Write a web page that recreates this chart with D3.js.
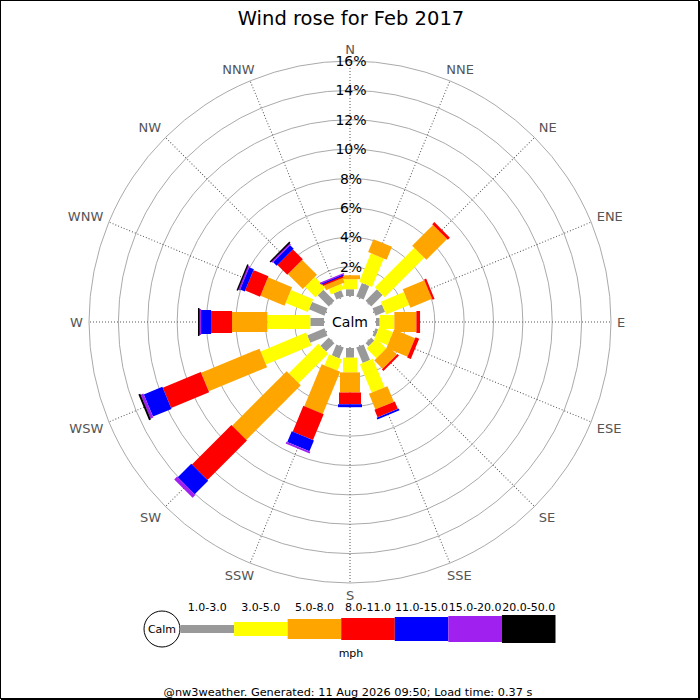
<!DOCTYPE html>
<html>
<head>
<meta charset="utf-8">
<script src="https://cdn.jsdelivr.net/npm/d3@7"></script>
<style>
  body { margin: 0; background: #fff; }
  text { font-family: "DejaVu Sans", sans-serif; }
</style>
</head>
<body>
<div id="my_dataviz"></div>
<script>
// directions, clockwise from north
var directions = ["N", "NNE", "NE", "ENE", "E", "ESE", "SE", "SSE",
                  "S", "SSW", "SW", "WSW", "W", "WNW", "NW", "NNW"];

// speed bands (mph) and their colours
var bands = ["1.0-3.0", "3.0-5.0", "5.0-8.0", "8.0-11.0", "11.0-15.0", "15.0-20.0", "20.0-50.0"];
var bandColors = ["#999999", "#ffff00", "#ffa500", "#ff0000", "#0000ff", "#a020f0", "#000000"];

// percentage of time per direction, one array per speed band
var pct1to3   = [0.46, 1.00, 1.10, 0.70, 0.25, 0.20, 0.30, 1.14, 0.66, 0.80, 0.80, 1.27, 0.93, 1.14, 1.07, 0.46];
var pct3to5   = [0.68, 2.10, 3.80, 1.70, 1.00, 1.00, 0.95, 2.10, 1.00, 0.82, 2.85, 3.35, 2.93, 1.64, 1.02, 0.40];
var pct5to8   = [0.27, 0.95, 2.00, 1.60, 1.50, 1.55, 0.80, 1.15, 1.37, 3.10, 5.25, 4.30, 2.40, 1.77, 1.43, 0.34];
var pct8to11  = [0, 0, 0.20, 0.15, 0.25, 0.27, 0.15, 0.55, 0.80, 1.90, 3.80, 2.80, 1.43, 1.10, 0.95, 0.14];
var pct11to15 = [0, 0, 0, 0, 0, 0, 0, 0.13, 0.20, 0.80, 1.30, 1.37, 0.68, 0.34, 0.34, 0.07];
var pct15to20 = [0, 0, 0, 0, 0, 0, 0, 0, 0, 0.13, 0.27, 0.20, 0.14, 0.14, 0.14, 0.07];
var pct20to50 = [0, 0, 0, 0, 0, 0, 0, 0, 0, 0, 0, 0.14, 0.07, 0.07, 0.07, 0];

// radial axis ticks
var ringTicks = [2, 4, 6, 8, 10, 12, 14, 16];

var series = [pct1to3, pct3to5, pct5to8, pct8to11, pct11to15, pct15to20, pct20to50];
var bandWidths = [8, 14, 20, 22, 24, 26, 28];

var width = 700, height = 700;
var cx = 350, cy = 322;
var calmR = 25;

var svg = d3.select("#my_dataviz")
  .append("svg")
    .attr("width", width)
    .attr("height", height);

// frame
svg.append("rect")
    .attr("x", 0.5).attr("y", 0.5)
    .attr("width", width - 2).attr("height", height - 2)
    .attr("fill", "#fff").attr("stroke", "#000");
svg.append("line").attr("x1", 1).attr("x2", 700).attr("y1", 699.5).attr("y2", 699.5).attr("stroke", "#000");
svg.append("line").attr("x1", 699.5).attr("x2", 699.5).attr("y1", 1).attr("y2", 700).attr("stroke", "#000");

// title
svg.append("text")
    .attr("x", 351).attr("y", 25)
    .attr("text-anchor", "middle")
    .style("font-size", "19.5px")
    .text("Wind rose for Feb 2017");

var r = d3.scaleLinear()
    .domain([0, 16])
    .range([26, 261]);

var angle = d3.scaleBand()
    .domain(directions)
    .range([0, 360]);

var g = svg.append("g")
    .attr("transform", "translate(" + cx + "," + cy + ")");

// rings
g.selectAll(".ring")
  .data(ringTicks)
  .enter()
  .append("circle")
    .attr("r", function(d) { return r(d); })
    .attr("fill", "none")
    .attr("stroke", "#aaa")
    .attr("stroke-width", 1);

// spokes
g.selectAll(".spoke")
  .data(directions)
  .enter()
  .append("line")
    .attr("transform", function(d) { return "rotate(" + angle(d) + ")"; })
    .attr("x1", 0).attr("x2", 0)
    .attr("y1", -calmR).attr("y2", -r(16))
    .attr("stroke", "#555")
    .attr("stroke-width", 1)
    .attr("stroke-dasharray", "1,2");

// stack the bands for each direction
var segs = [];
directions.forEach(function(dir, i) {
    var acc = 0;
    series.forEach(function(s, k) {
        if (s[i] > 0) {
            segs.push({dir: dir, k: k, y0: acc, y1: acc + s[i]});
        }
        acc += s[i];
    });
});

g.selectAll(".seg")
  .data(segs)
  .enter()
  .append("rect")
    .attr("transform", function(d) { return "rotate(" + angle(d.dir) + ")"; })
    .attr("x", function(d) { return -bandWidths[d.k] / 2; })
    .attr("y", function(d) { return -r(d.y1); })
    .attr("width", function(d) { return bandWidths[d.k]; })
    .attr("height", function(d) { return Math.max(1.5, r(d.y1) - r(d.y0)); })
    .style("fill", function(d) { return bandColors[d.k]; });

// calm circle
g.append("circle").attr("r", calmR).attr("fill", "#fff");
g.append("text")
    .attr("y", 5)
    .attr("text-anchor", "middle")
    .style("font-size", "14px")
    .text("Calm");

// ring labels
g.selectAll(".ringlabel")
  .data(ringTicks)
  .enter()
  .append("text")
    .attr("x", 1)
    .attr("y", function(d) { return -r(d) + 5; })
    .attr("text-anchor", "middle")
    .style("font-size", "14px")
    .text(function(d) { return d + "%"; });

// direction labels, box pushed outward from a point on the circle
g.selectAll(".dirlabel")
  .data(directions)
  .enter()
  .append("text")
    .style("font-size", "13px")
    .style("fill", "#555")
    .attr("text-anchor", "middle")
    .text(function(d) { return d; })
    .each(function(d) {
        var a = angle(d) * Math.PI / 180;
        var bb = this.getBBox();
        var sx = Math.max(-1, Math.min(1, 1.5 * Math.sin(a)));
        var sy = Math.max(-1, Math.min(1, 1.5 * Math.cos(a)));
        var px = 267 * Math.sin(a) + bb.width / 2 * sx;
        var py = -267 * Math.cos(a) - 6 * sy;
        d3.select(this).attr("x", px).attr("y", py + 5);
    });

// legend
var lx = d3.scaleBand()
    .domain(bands)
    .range([180.5, 555.5]);
var ly = 629;

svg.append("circle")
    .attr("cx", 162).attr("cy", ly).attr("r", 18)
    .attr("fill", "#fff").attr("stroke", "#000");
svg.append("text")
    .attr("x", 162).attr("y", ly + 4)
    .attr("text-anchor", "middle")
    .style("font-size", "11px")
    .text("Calm");

svg.selectAll(".legbar")
  .data(bands)
  .enter()
  .append("rect")
    .attr("x", function(d) { return lx(d); })
    .attr("y", function(d, i) { return ly - bandWidths[i] / 2; })
    .attr("width", lx.bandwidth())
    .attr("height", function(d, i) { return bandWidths[i]; })
    .style("fill", function(d, i) { return bandColors[i]; });

svg.selectAll(".legtext")
  .data(bands)
  .enter()
  .append("text")
    .attr("x", function(d) { return lx(d) + lx.bandwidth() / 2; })
    .attr("y", 611)
    .attr("text-anchor", "middle")
    .style("font-size", "11px")
    .text(function(d) { return d; });

svg.append("text")
    .attr("x", 351).attr("y", 657)
    .attr("text-anchor", "middle")
    .style("font-size", "11px")
    .text("mph");

// footer
svg.append("text")
    .attr("x", 348).attr("y", 696)
    .attr("text-anchor", "middle")
    .style("font-size", "11.3px")
    .text("@nw3weather. Generated: 11 Aug 2026 09:50; Load time: 0.37 s");
</script>
</body>
</html>
